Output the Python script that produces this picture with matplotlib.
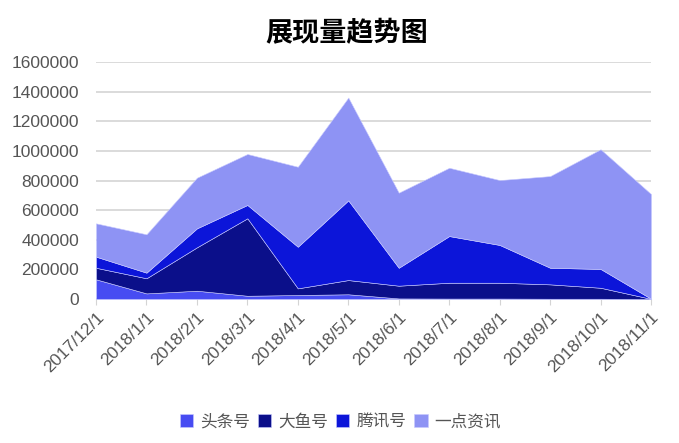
import matplotlib
matplotlib.use('Agg')
import matplotlib.pyplot as plt
import numpy as np

plt.rcParams['font.family'] = ['Liberation Sans', 'Noto Sans CJK SC', 'DejaVu Sans']

dates = ['2017/12/1', '2018/1/1', '2018/2/1', '2018/3/1', '2018/4/1', '2018/5/1',
         '2018/6/1', '2018/7/1', '2018/8/1', '2018/9/1', '2018/10/1', '2018/11/1']
toutiao = [133000, 38000, 56000, 22000, 27000, 32000, 4000, 3000, 3000, 2000, 2000, 0]
dayu = [78000, 102000, 293000, 523000, 45000, 96000, 86000, 107000, 107000, 97000, 74000, 1000]
tengxun = [75000, 38000, 128000, 90000, 281000, 538000, 121000, 315000, 255000, 112000, 127000, 1000]
yidian = [225000, 259000, 342000, 344000, 540000, 694000, 507000, 461000, 438000, 619000, 808000, 707000]

names = ['头条号', '大鱼号', '腾讯号', '一点资讯']
colors = ['#474cf2', '#0b0f8a', '#0c15d9', '#8e93f4']

fig = plt.figure(figsize=(6.79, 4.43), dpi=100)
ax = fig.add_axes([0.1414, 0.325, 0.8174, 0.535])

x = np.arange(len(dates))
ax.stackplot(x, toutiao, dayu, tengxun, yidian, colors=colors, labels=names,
             edgecolor='#c8caff', linewidth=0.4, zorder=2)

ax.set_xlim(0, len(dates) - 1)
ax.set_ylim(0, 1600000)
ax.set_yticks(np.arange(0, 1600001, 200000))
ax.set_yticklabels([str(v) for v in range(0, 1600001, 200000)])
ax.yaxis.grid(True, color='#d4d4d4', linewidth=1.2, zorder=0)
ax.set_axisbelow(True)
for s in ax.spines.values():
    s.set_visible(False)
ax.tick_params(axis='y', length=0, labelsize=12.5, labelcolor='#555555', pad=12)
ax.tick_params(axis='x', length=4, color='#d4d4d4', labelsize=12.5, labelcolor='#555555')
ax.set_xticks(x)
ax.set_xticklabels(dates, rotation=45, ha='right', rotation_mode='anchor')

fig.text(0.51, 0.926, '展现量趋势图', ha='center', va='center', fontsize=19.5,
         fontweight='bold', family=['Noto Sans CJK SC', 'DejaVu Sans'])

leg = ax.legend(loc='upper center', bbox_to_anchor=(0.44, -0.42), ncol=4, frameon=False,
                handlelength=0.8, handleheight=0.8, handletextpad=0.4, columnspacing=0.5,
                prop={'family': ['Noto Sans CJK SC', 'DejaVu Sans'], 'size': 12})
for t in leg.get_texts():
    t.set_color('#555555')

fig.savefig('out.png', dpi=100)
